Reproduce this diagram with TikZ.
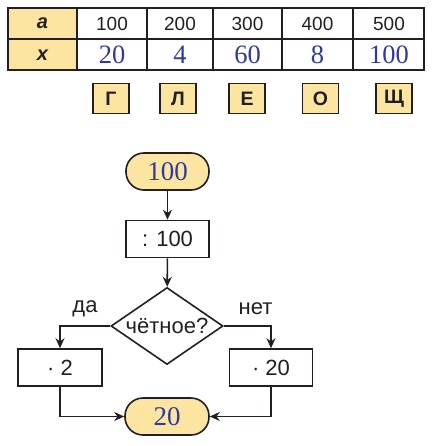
\documentclass[tikz,border=0pt]{standalone}
\usepackage{fontspec}
\setmainfont{Liberation Serif}
\setsansfont{Liberation Sans}
\usetikzlibrary{shapes.geometric,arrows.meta}
\definecolor{cellyellow}{HTML}{FBE5A0}
\definecolor{numblue}{HTML}{2E3A9E}
\definecolor{ink}{HTML}{231F20}
\tikzset{
  grid line/.style={draw=ink, line width=1.5pt},
  toptxt/.style={font=\sffamily\fontsize{19}{19}\selectfont, text=ink, inner sep=0pt},
  headtxt/.style={font=\sffamily\bfseries\itshape\fontsize{20}{20}\selectfont, text=ink, inner sep=0pt},
  bluetxt/.style={font=\rmfamily\fontsize{26.5}{26.5}\selectfont, text=numblue, inner sep=0pt},
  letterbox/.style={draw=ink, line width=1.6pt, fill=cellyellow, minimum width=36pt, minimum height=30pt, inner sep=0pt, font=\sffamily\bfseries\fontsize{19.5}{19.5}\selectfont, text=ink},
  terminal/.style={draw=ink, line width=1.6pt, fill=cellyellow, rounded corners=18pt, minimum width=83pt, minimum height=37pt, inner sep=0pt, font=\rmfamily\fontsize{27}{27}\selectfont, text=numblue},
  procbox/.style={draw=ink, line width=1.6pt, fill=white, minimum width=84pt, minimum height=37pt, inner sep=0pt, font=\sffamily\fontsize{22}{22}\selectfont, text=ink},
  decision/.style={draw=ink, line width=1.6pt, diamond, minimum width=112pt, minimum height=77pt, inner sep=0pt},
  flowtxt/.style={font=\sffamily\fontsize{22}{22}\selectfont, text=ink, inner sep=0pt},
  flow/.style={draw=ink, line width=1.6pt, -{Stealth[length=10pt,width=9pt]}},
}
\begin{document}
\begin{tikzpicture}[x=1pt,y=-1pt]
\useasboundingbox (0,0) rectangle (432,446);
% table
\fill[cellyellow] (8,8) rectangle (77,70);
\draw[grid line] (8,8) rectangle (424,70);
\draw[grid line] (8,39) -- (424,39);
\foreach \c in {77,147,213,282,353} \draw[grid line] (\c,8) -- (\c,70);
\node[headtxt] (ha) at (42.5,23.5) {a};
\node[headtxt] (hx) at (42.5,55) {x};
\node[toptxt] (a1) at (112,24) {100};
\node[toptxt] (a2) at (180,24) {200};
\node[toptxt] (a3) at (247.5,24) {300};
\node[toptxt] (a4) at (317.5,24) {400};
\node[toptxt] (a5) at (389,24) {500};
\node[bluetxt] (x1) at (112,55) {20};
\node[bluetxt] (x2) at (180,55) {4};
\node[bluetxt] (x3) at (247.5,55) {60};
\node[bluetxt] (x4) at (317.5,55) {8};
\node[bluetxt] (x5) at (389,55) {100};
% letter boxes
\node[letterbox] (l1) at (111,98.5) {Г};
\node[letterbox] (l2) at (178,98.5) {Л};
\node[letterbox] (l3) at (247,98.5) {Е};
\node[letterbox] (l4) at (320.5,98.5) {О};
\node[letterbox] (l5) at (394,98.5) {Щ};
% flowchart
\node[terminal] (start) at (167.5,171.5) {100};
\node[procbox, minimum width=83pt] (div) at (167.5,239) {: 100};
\node[decision, label={[flowtxt]center:чётное?}] (dec) at (167,326) {};
\node[procbox] (mul2) at (60,367.5) {· 2};
\node[procbox, minimum width=83pt] (mul20) at (271,367.5) {· 20};
\node[terminal, minimum width=84pt] (end) at (167,416.5) {20};
\node[flowtxt] (yes) at (85,309) {да};
\node[flowtxt] (no) at (255.5,309) {нет};
\draw[flow] (start) -- (div);
\draw[flow] (div) -- (dec);
\draw[flow] (dec.west) -| (mul2.north);
\draw[flow] (dec.east) -| (mul20.north);
\draw[flow] (mul2.south) |- (end.west);
\draw[flow] (mul20.south) |- (end.east);
\end{tikzpicture}
\end{document}
